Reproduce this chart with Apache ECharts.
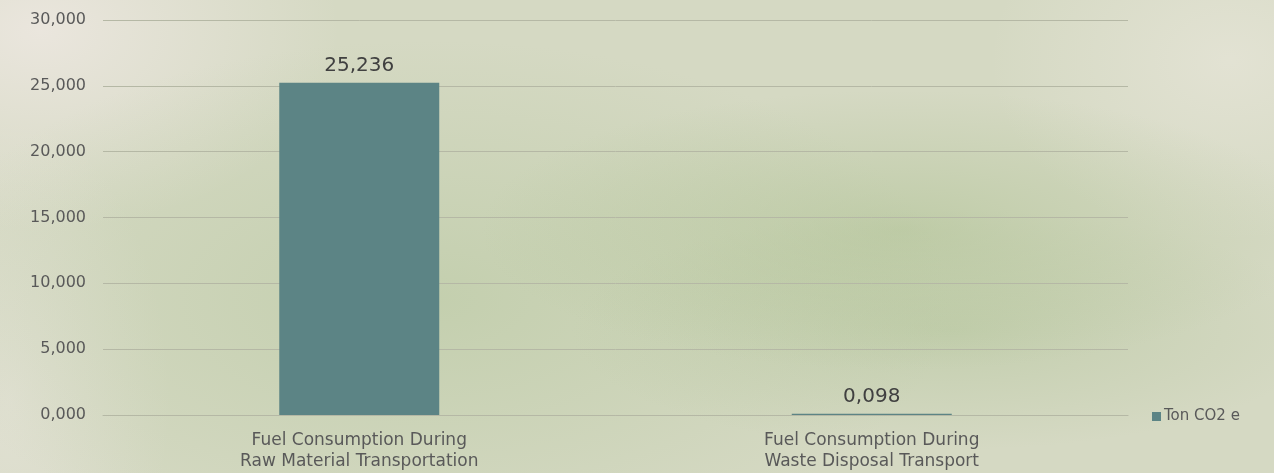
<!DOCTYPE html>
<html>
<head>
<meta charset="utf-8">
<script src="https://cdn.jsdelivr.net/npm/echarts@6/dist/echarts.min.js"></script>
<style>
html, body { margin: 0; padding: 0; }
#chart {
	width: 1274px; height: 473px;
	background:
		radial-gradient(ellipse 420px 140px at 900px 230px, rgba(165,188,135,0.45), rgba(165,188,135,0) 100%),
		radial-gradient(ellipse 380px 120px at 950px 330px, rgba(168,190,142,0.4), rgba(168,190,142,0) 100%),
		radial-gradient(ellipse 520px 260px at 430px 300px, rgba(178,197,153,0.5), rgba(178,197,153,0) 100%),
		radial-gradient(ellipse 300px 200px at 40px 30px, rgba(238,232,226,0.85), rgba(238,232,226,0) 100%),
		radial-gradient(ellipse 160px 280px at 10px 400px, rgba(232,229,220,0.6), rgba(232,229,220,0) 100%),
		radial-gradient(ellipse 240px 180px at 1230px 60px, rgba(232,230,218,0.7), rgba(232,230,218,0) 100%),
		#d5d9c3;
}
</style>
</head>
<body>
<div id="chart"></div>
<script>
var categories = ["Fuel Consumption During\nRaw Material Transportation", "Fuel Consumption During\nWaste Disposal Transport"];
var tonCO2 = [25.236, 0.098];
var seriesName = "Ton CO2 e";

function comma3(v) {
	return Number(v).toFixed(3).replace('.', ',');
}

var chart = echarts.init(document.getElementById("chart"));
var option = {
	backgroundColor: 'transparent',
	textStyle: { fontFamily: '"DejaVu Sans", sans-serif' },
	grid: { left: 103, right: 146, top: 20, bottom: 58 },
	legend: {
		data: [seriesName],
		left: 1147,
		top: 404,
		itemWidth: 9,
		itemHeight: 9,
		itemGap: 4,
		icon: 'rect',
		textStyle: { color: '#595959', fontSize: 15, padding: [0, 0, 0, -2] }
	},
	xAxis: {
		type: 'category',
		data: categories,
		axisLine: { show: true, lineStyle: { color: '#b5b8a5' } },
		axisTick: { show: false },
		axisLabel: { color: '#595959', fontSize: 17, lineHeight: 21, margin: 15 }
	},
	yAxis: {
		type: 'value',
		min: 0,
		max: 30,
		interval: 5,
		axisLine: { show: false },
		axisTick: { show: false },
		splitLine: { lineStyle: { color: '#b5b8a5' } },
		axisLabel: { color: '#595959', fontSize: 16, margin: 17, formatter: comma3 }
	},
	series: [{
		name: seriesName,
		type: 'bar',
		data: tonCO2,
		barWidth: 160,
		itemStyle: { color: '#5c8485' },
		label: {
			show: true,
			position: 'top',
			distance: 7,
			color: '#404040',
			fontSize: 20,
			formatter: function(p) { return comma3(p.value); }
		}
	}]
};
chart.setOption(option);
</script>
</body>
</html>
